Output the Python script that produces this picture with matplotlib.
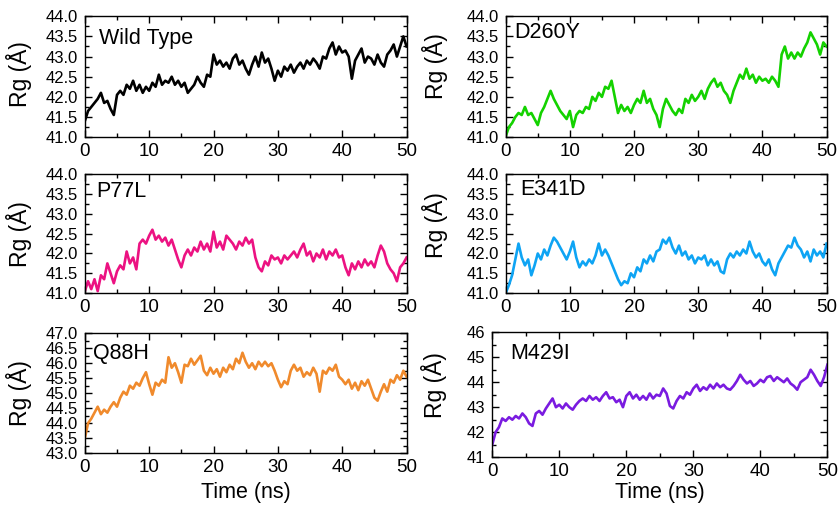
import numpy as np
import matplotlib
matplotlib.use('Agg')
import matplotlib.pyplot as plt
from matplotlib.ticker import MultipleLocator

plt.rcParams['font.family'] = ['Liberation Sans', 'DejaVu Sans']

# time axis, one value every 0.5 ns
time_ns = np.arange(0, 50.01, 0.5)

wild_type = [41.40, 41.65, 41.75, 41.85, 41.95, 42.10, 41.85, 41.90, 41.70, 41.55,
             42.05, 42.15, 42.05, 42.30, 42.20, 42.40, 42.15, 42.30, 42.10, 42.25,
             42.15, 42.35, 42.25, 42.55, 42.30, 42.40, 42.35, 42.50, 42.30, 42.40,
             42.25, 42.35, 42.10, 42.20, 42.30, 42.50, 42.35, 42.25, 42.55, 42.50,
             43.05, 42.80, 42.90, 42.75, 42.85, 42.70, 42.95, 43.05, 42.80, 42.90,
             42.70, 42.55, 42.80, 43.00, 42.75, 43.10, 42.85, 42.95, 42.70, 42.40,
             42.65, 42.50, 42.75, 42.65, 42.80, 42.60, 42.75, 42.85, 42.70, 42.90,
             42.80, 42.95, 42.85, 42.70, 43.00, 42.95, 43.20, 43.35, 43.05, 43.25,
             43.10, 43.15, 43.00, 42.45, 42.90, 43.05, 43.20, 42.85, 43.00, 42.95,
             42.80, 43.05, 42.85, 42.75, 43.05, 43.15, 43.30, 43.00, 43.25, 43.50,
             43.25]

d260y = [41.02, 41.25, 41.35, 41.50, 41.60, 41.55, 41.75, 41.55, 41.60, 41.45,
         41.30, 41.60, 41.75, 41.95, 42.15, 41.95, 41.80, 41.65, 41.55, 41.45,
         41.65, 41.25, 41.55, 41.65, 41.60, 41.75, 41.70, 42.00, 41.90, 42.10,
         42.00, 42.25, 42.20, 42.40, 42.00, 41.60, 41.80, 41.65, 41.75, 41.60,
         41.80, 41.95, 41.85, 42.15, 41.85, 41.95, 41.70, 41.55, 41.25, 41.70,
         41.95, 41.80, 41.65, 41.55, 41.70, 41.60, 41.95, 41.85, 42.05, 41.90,
         42.00, 42.15, 41.95, 42.20, 42.35, 42.45, 42.25, 42.35, 42.15, 42.05,
         41.85, 42.15, 42.35, 42.55, 42.45, 42.70, 42.45, 42.55, 42.35, 42.50,
         42.40, 42.45, 42.35, 42.50, 42.40, 42.25, 43.05, 43.25, 42.95, 43.10,
         42.95, 43.10, 43.00, 43.20, 43.35, 43.60, 43.45, 43.30, 43.05, 43.35,
         43.25]

p77l = [41.05, 41.30, 41.10, 41.35, 41.05, 41.45, 41.35, 41.75, 41.50, 41.25,
        41.55, 41.70, 41.60, 42.05, 41.75, 41.90, 41.60, 42.25, 42.35, 42.25,
        42.45, 42.60, 42.35, 42.45, 42.30, 42.40, 42.20, 42.35, 42.10, 41.85,
        41.65, 41.95, 42.10, 41.95, 42.15, 42.05, 42.30, 42.10, 42.25, 42.05,
        42.55, 42.15, 42.30, 42.10, 42.45, 42.35, 42.25, 42.10, 42.30, 42.20,
        42.40, 42.25, 42.35, 41.90, 41.65, 41.55, 41.80, 41.70, 41.95, 41.85,
        41.90, 41.75, 41.95, 41.85, 41.95, 42.05, 41.90, 42.10, 42.25, 41.95,
        42.05, 41.80, 42.00, 41.90, 42.10, 41.85, 42.05, 41.95, 42.10, 41.90,
        41.95, 41.65, 41.45, 41.75, 41.60, 41.80, 41.65, 41.85, 41.70, 41.80,
        41.65, 41.95, 42.20, 42.05, 41.75, 41.60, 41.50, 41.30, 41.65, 41.75,
        41.90]

e341d = [41.00, 41.20, 41.45, 41.85, 42.25, 41.90, 41.70, 41.85, 41.45, 41.70,
         42.00, 41.85, 42.10, 41.95, 42.20, 42.40, 42.30, 42.15, 42.00, 41.85,
         42.05, 42.30, 41.90, 41.65, 41.80, 41.70, 41.85, 41.75, 41.95, 42.25,
         41.95, 42.10, 41.95, 41.75, 41.55, 41.35, 41.20, 41.30, 41.25, 41.50,
         41.40, 41.65, 41.55, 41.85, 41.75, 41.95, 41.80, 42.05, 42.10, 42.35,
         42.25, 42.40, 42.15, 42.00, 42.20, 41.95, 42.05, 41.85, 41.95, 41.75,
         41.90, 41.85, 41.95, 41.70, 41.85, 41.70, 41.80, 41.55, 41.50, 41.85,
         42.00, 41.90, 42.05, 41.95, 42.10, 42.00, 42.30, 42.05, 41.90, 42.00,
         41.80, 41.70, 41.85, 41.60, 41.45, 41.75, 41.90, 42.05, 42.20, 42.15,
         42.40, 42.20, 42.10, 41.90, 42.05, 41.80, 42.10, 41.95, 42.05, 41.90,
         42.25]

q88h = [43.50, 44.00, 44.15, 44.35, 44.55, 44.30, 44.45, 44.35, 44.55, 44.70,
        44.55, 44.85, 45.05, 44.95, 45.25, 45.15, 45.35, 45.25, 45.50, 45.70,
        45.30, 44.95, 45.35, 45.25, 45.45, 45.35, 46.20, 45.85, 46.00, 45.70,
        45.35, 45.95, 45.90, 46.15, 45.95, 46.10, 46.25, 45.75, 45.60, 45.85,
        45.65, 45.80, 45.55, 45.85, 45.70, 45.95, 45.80, 46.15, 46.00, 46.35,
        46.05, 45.85, 46.00, 45.80, 46.05, 45.90, 46.05, 45.90, 46.00, 45.75,
        45.45, 45.20, 45.40, 45.30, 45.75, 45.95, 45.75, 45.85, 45.55, 45.70,
        45.60, 45.85, 45.65, 45.05, 45.75, 45.65, 45.85, 45.75, 45.95, 45.55,
        45.45, 45.30, 45.45, 45.15, 45.35, 45.10, 45.40, 45.25, 45.45, 45.15,
        44.85, 44.75, 45.05, 45.30, 45.05, 45.45, 45.35, 45.60, 45.45, 45.75,
        45.55]

m429i = [41.50, 42.00, 42.20, 42.55, 42.45, 42.60, 42.50, 42.65, 42.55, 42.75,
         42.60, 42.35, 42.25, 42.75, 42.85, 42.70, 42.95, 43.15, 43.35, 43.00,
         43.10, 42.95, 43.15, 43.00, 42.90, 43.10, 43.25, 43.35, 43.25, 43.45,
         43.30, 43.40, 43.25, 43.45, 43.60, 43.35, 43.40, 43.20, 43.30, 43.00,
         43.45, 43.60, 43.35, 43.50, 43.30, 43.45, 43.30, 43.55, 43.35, 43.50,
         43.45, 43.75, 43.55, 43.05, 42.95, 43.25, 43.45, 43.35, 43.60, 43.50,
         43.75, 43.90, 43.65, 43.80, 43.70, 43.90, 43.75, 43.95, 43.80, 43.90,
         43.75, 43.70, 43.85, 44.05, 44.30, 44.10, 43.95, 44.05, 43.85, 43.95,
         44.10, 44.00, 44.20, 44.25, 44.05, 44.20, 44.10, 44.00, 44.15, 43.95,
         43.85, 43.70, 44.00, 44.10, 44.20, 44.50, 44.30, 44.05, 43.85, 44.20,
         44.70]

names = ['Wild Type', 'D260Y', 'P77L', 'E341D', 'Q88H', 'M429I']
series = [wild_type, d260y, p77l, e341d, q88h, m429i]
colors = ['#000000', '#14d200', '#ec1282', '#0ea4f4', '#f08a2c', '#7a1be0']
ylims = [(41, 44), (41, 44), (41, 44), (41, 44), (43, 47), (41, 46)]

# axes boxes in figure fractions [left, bottom, width, height]
boxes = [[0.101, 0.730, 0.383, 0.238], [0.602, 0.730, 0.382, 0.238],
         [0.101, 0.423, 0.383, 0.234], [0.602, 0.423, 0.382, 0.234],
         [0.101, 0.108, 0.383, 0.236], [0.586, 0.100, 0.399, 0.246]]
label_pos = [(0.043, 0.90), (0.028, 0.95), (0.037, 0.94),
             (0.044, 0.958), (0.025, 0.917), (0.054, 0.912)]
ylab_pos = [(-0.165, 0.52), (-0.18, 0.59), (-0.165, 0.50),
            (-0.18, 0.57), (-0.165, 0.50), (-0.134, 0.575)]

fig = plt.figure(figsize=(8.4, 5.08), dpi=100)

for i in range(6):
    ax = fig.add_axes(boxes[i])
    ax.plot(time_ns, series[i], color=colors[i], lw=1.9)
    ax.set_xlim(0, 50)
    ax.set_ylim(*ylims[i])
    ax.xaxis.set_major_locator(MultipleLocator(10))
    ax.xaxis.set_minor_locator(MultipleLocator(5))
    if i == 5:
        ax.yaxis.set_major_locator(MultipleLocator(1))
        ax.yaxis.set_minor_locator(MultipleLocator(0.5))
    else:
        ax.yaxis.set_major_locator(MultipleLocator(0.5))
        ax.yaxis.set_minor_locator(MultipleLocator(0.25))
        ax.yaxis.set_major_formatter('{x:.1f}')
    ax.tick_params(which='both', direction='in', top=True, right=True, width=1.0)
    ax.tick_params(which='major', length=5)
    ax.tick_params(which='minor', length=3)
    ax.tick_params(axis='x', labelsize=13.5, pad=4.5)
    ax.tick_params(axis='y', labelsize=12, pad=5)
    for sp in ax.spines.values():
        sp.set_linewidth(1.0)
    ax.text(label_pos[i][0], label_pos[i][1], names[i], transform=ax.transAxes,
            fontsize=15.5, ha='left', va='top')
    ax.set_ylabel('Rg (Å)', fontsize=16.5)
    ax.yaxis.set_label_coords(*ylab_pos[i])
    if i >= 4:
        ax.set_xlabel('Time (ns)', fontsize=15.5)
        ax.xaxis.set_label_coords(0.5, -0.24 if i == 4 else -0.20)

fig.savefig('out.png', dpi=100)
